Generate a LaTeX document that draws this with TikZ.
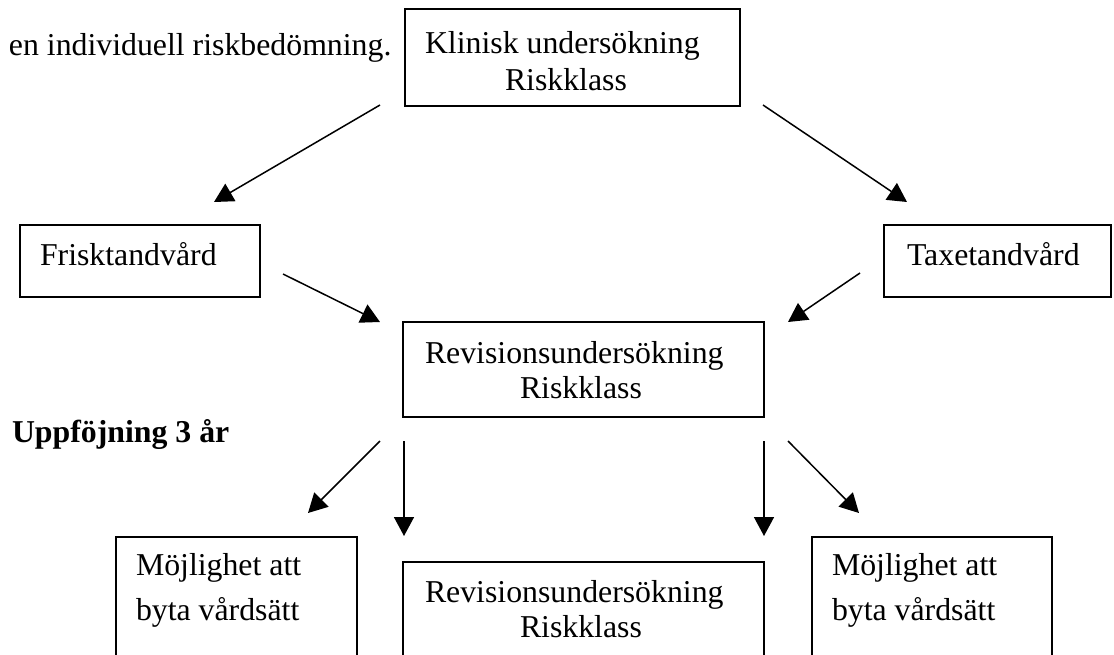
\documentclass[tikz,border=0pt]{standalone}
\usepackage{fontspec}
\setmainfont{Liberation Serif}
\usetikzlibrary{arrows.meta}

\begin{document}
\begin{tikzpicture}[x=0.5pt,y=-0.5pt,
		every node/.style={inner sep=0pt, outer sep=0pt, font=\fontsize{15.9}{19}\selectfont},
		ruta/.style={draw, line width=1pt, rectangle},
		txt/.style={anchor=base west},
		pil/.style={line width=0.75pt, -{Triangle[length=9.5pt,width=10pt]}}]
		\useasboundingbox (0,0) rectangle (1114,654);
		\clip (0,0) rectangle (1114,654);

		% boxes
		\node[ruta, minimum width=167.5pt, minimum height=48.5pt] (klin) at (572.5,57.5) {};
		\node[ruta, minimum width=120pt, minimum height=36pt] (frisk) at (140,261) {};
		\node[ruta, minimum width=113.5pt, minimum height=36pt] (taxe) at (997.5,261) {};
		\node[ruta, minimum width=180.5pt, minimum height=47.5pt] (rev) at (583.5,369.5) {};
		\node[ruta, minimum width=120.5pt, minimum height=81.5pt] (mojv) at (236.5,618.5) {};
		\node[ruta, minimum width=180.5pt, minimum height=79pt] (revb) at (583.5,641) {};
		\node[ruta, minimum width=120pt, minimum height=81.5pt] (mojh) at (932,618.5) {};

		% texts
		\node[txt] (intro) at (9,55) {en individuell riskbedömning.};
		\node[txt] (klin1) at (425,53) {Klinisk undersökning};
		\node[txt] (klin2) at (505,90) {Riskklass};
		\node[txt] (frisk1) at (40,265) {Frisktandvård};
		\node[txt] (taxe1) at (907,265) {Taxetandvård};
		\node[txt] (rev1) at (425,363) {Revisionsundersökning};
		\node[txt] (rev2) at (520,398) {Riskklass};
		\node[txt, font=\fontsize{15.9}{19}\selectfont\bfseries] (uppf) at (12,442) {Uppföjning 3 år};
		\node[txt] (mojv1) at (136,575) {Möjlighet att};
		\node[txt] (mojv2) at (136,620) {byta vårdsätt};
		\node[txt] (revb1) at (425,602) {Revisionsundersökning};
		\node[txt] (revb2) at (520,637) {Riskklass};
		\node[txt] (mojh1) at (832,575) {Möjlighet att};
		\node[txt] (mojh2) at (832,620) {byta vårdsätt};

		% arrow ends
		\coordinate (a1) at (380,105); \coordinate (a2) at (214,202);
		\coordinate (b1) at (763,105); \coordinate (b2) at (907,202);
		\coordinate (c1) at (283,274); \coordinate (c2) at (380,322);
		\coordinate (d1) at (860,273); \coordinate (d2) at (788,322);
		\coordinate (e1) at (380,441); \coordinate (e2) at (308,513);
		\coordinate (f1) at (404,441); \coordinate (f2) at (404,536);
		\coordinate (g1) at (764,441); \coordinate (g2) at (764,536);
		\coordinate (h1) at (788,441); \coordinate (h2) at (859,513);

		% arrows
		\draw[pil] (a1) -- (a2);
		\draw[pil] (b1) -- (b2);
		\draw[pil] (c1) -- (c2);
		\draw[pil] (d1) -- (d2);
		\draw[pil] (e1) -- (e2);
		\draw[pil] (f1) -- (f2);
		\draw[pil] (g1) -- (g2);
		\draw[pil] (h1) -- (h2);
	\end{tikzpicture}
\end{document}
